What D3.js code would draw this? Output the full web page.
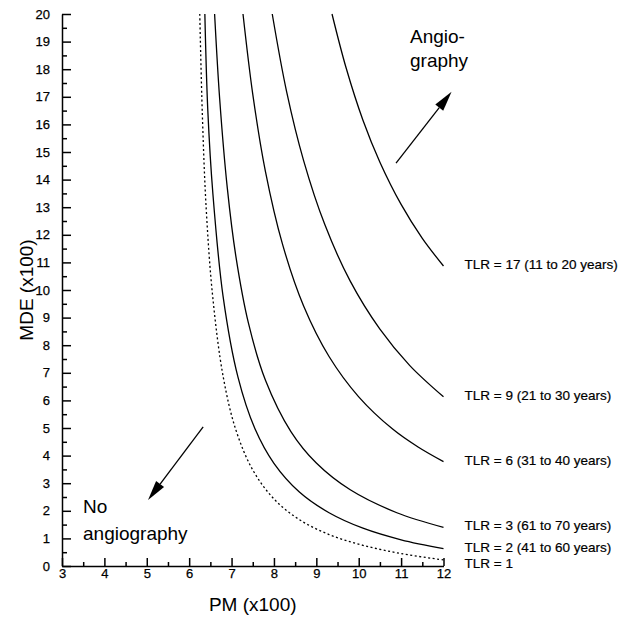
<!DOCTYPE html>
<html>
<head>
<meta charset="utf-8">
<script src="https://cdn.jsdelivr.net/npm/d3@7"></script>
<style>
  body { margin: 0; background: #fff; }
  svg { display: block; font-family: "Liberation Sans", Arial, sans-serif; }
  .axis path, .axis line { stroke: #000; stroke-width: 1.5px; }
  .axis text { font-size: 13px; fill: #000; stroke: #000; stroke-width: 0.25px; }
</style>
</head>
<body>
<div id="chart"></div>
<script>
// curve points: PM (x100) and MDE (x100)
var pmTLR1  = [6.25, 6.31, 6.40, 6.55, 6.80, 7.10, 7.50, 8.00, 8.60, 9.30, 10.10, 11.00, 12.0];
var mdeTLR1 = [20, 16.4, 13.0, 9.84, 6.88, 4.94, 3.48, 2.43, 1.68, 1.14, 0.75, 0.45, 0.22];

var pmTLR2  = [6.37, 6.44, 6.56, 6.80, 7.15, 7.55, 8.00, 8.60, 9.30, 10.10, 11.00, 12.0];
var mdeTLR2 = [20, 16.5, 13.48, 9.77, 6.85, 4.98, 3.72, 2.68, 1.93, 1.37, 0.95, 0.63];

var pmTLR3  = [6.60, 6.72, 6.90, 7.10, 7.40, 7.80, 8.40, 9.00, 9.80, 10.90, 12.0];
var mdeTLR3 = [20, 16.92, 13.69, 11.24, 8.79, 6.73, 4.87, 3.73, 2.76, 1.93, 1.40];

var pmTLR6  = [7.27, 7.50, 7.80, 8.20, 8.70, 9.30, 10.00, 10.80, 11.40, 12.0];
var mdeTLR6 = [20, 17.10, 14.29, 11.67, 9.42, 7.59, 6.13, 4.96, 4.31, 3.78];

var pmTLR9  = [7.96, 8.30, 8.70, 9.20, 9.80, 10.50, 11.20, 12.0];
var mdeTLR9 = [20, 17.18, 14.69, 12.37, 10.32, 8.58, 7.27, 6.13];

var pmTLR17  = [9.37, 9.70, 10.10, 10.50, 11.00, 11.50, 12.0];
var mdeTLR17 = [20, 18.06, 16.15, 14.63, 13.10, 11.87, 10.87];

var curveNames = ["TLR = 1", "TLR = 2 (41 to 60 years)", "TLR = 3 (61 to 70 years)",
                  "TLR = 6 (31 to 40 years)", "TLR = 9 (21 to 30 years)", "TLR = 17 (11 to 20 years)"];
var pmTicks = [3, 4, 5, 6, 7, 8, 9, 10, 11, 12];
var mdeTicks = d3.range(0, 21);

var width = 636, height = 617;

var svg = d3.select("#chart").append("svg")
    .attr("width", width)
    .attr("height", height);

svg.append("rect").attr("width", width).attr("height", height).attr("fill", "#fff");

var x = d3.scaleLinear().domain([3, 12]).range([62, 443.5]);
var y = d3.scaleLinear().domain([0, 20]).range([566, 14]);

// axes, ticks pointing inward
svg.append("g").attr("class", "axis")
    .attr("transform", "translate(" + x(3) + ",0)")
    .call(d3.axisLeft(y).tickValues(mdeTicks).tickSize(-9).tickSizeOuter(0).tickPadding(12));
svg.append("g").attr("class", "axis")
    .attr("transform", "translate(" + x(3) + ",0)")
    .call(d3.axisLeft(y).tickValues(d3.range(0.5, 20, 1)).tickSize(-5).tickSizeOuter(0).tickFormat(""))
    .select(".domain").remove();

svg.append("g").attr("class", "axis")
    .attr("transform", "translate(0," + y(0) + ")")
    .call(d3.axisBottom(x).tickValues(pmTicks).tickSize(-8).tickSizeOuter(0).tickPadding(3));
svg.append("g").attr("class", "axis")
    .attr("transform", "translate(0," + y(0) + ")")
    .call(d3.axisBottom(x).tickValues(d3.range(3.5, 12, 1)).tickSize(-4).tickSizeOuter(0).tickFormat(""))
    .select(".domain").remove();

// axis titles
svg.append("text")
    .attr("x", (x(3) + x(12)) / 2)
    .attr("y", 611)
    .attr("text-anchor", "middle")
    .attr("font-size", "19px")
    .text("PM (x100)");
svg.append("text")
    .attr("transform", "translate(33," + ((y(0) + y(20)) / 2) + ") rotate(-90)")
    .attr("text-anchor", "middle")
    .attr("font-size", "19px")
    .text("MDE (x100)");

// curves
var curves = [
    {pm: pmTLR1, mde: mdeTLR1, dotted: true},
    {pm: pmTLR2, mde: mdeTLR2},
    {pm: pmTLR3, mde: mdeTLR3},
    {pm: pmTLR6, mde: mdeTLR6},
    {pm: pmTLR9, mde: mdeTLR9},
    {pm: pmTLR17, mde: mdeTLR17}
];
curves.forEach(function (c, i) {
    c.name = curveNames[i];
    c.points = c.pm.map(function (p, j) { return [p, c.mde[j]]; });
});

var line = d3.line()
    .x(function (d) { return x(d[0]); })
    .y(function (d) { return y(d[1]); })
    .curve(d3.curveCatmullRom.alpha(0.5));

svg.selectAll(".curve")
    .data(curves)
    .enter()
    .append("path")
    .attr("class", "curve")
    .attr("d", function (d) { return line(d.points); })
    .attr("fill", "none")
    .attr("stroke", "#000")
    .attr("stroke-width", 1.3)
    .attr("stroke-dasharray", function (d) { return d.dotted ? "2,2.5" : null; });

svg.selectAll(".tlr")
    .data(curves)
    .enter()
    .append("text")
    .attr("class", "tlr")
    .attr("x", x(12) + 21)
    .attr("y", function (d) {
        var last = d.points[d.points.length - 1];
        return y(last[1]) + (d.dotted ? 8 : 3);
    })
    .attr("font-size", "13.5px")
    .attr("stroke", "#000")
    .attr("stroke-width", 0.2)
    .text(function (d) { return d.name; });

// annotations
function arrow(x1, y1, x2, y2) {
    var px1 = x(x1), py1 = y(y1), px2 = x(x2), py2 = y(y2);
    var ang = Math.atan2(py2 - py1, px2 - px1);
    var len = 20, hw = 5;
    var bx = px2 - len * Math.cos(ang), by = py2 - len * Math.sin(ang);
    svg.append("line")
        .attr("x1", px1).attr("y1", py1).attr("x2", bx).attr("y2", by)
        .attr("stroke", "#000").attr("stroke-width", 1.3);
    svg.append("path")
        .attr("d", "M" + px2 + "," + py2 +
            "L" + (bx + hw * Math.sin(ang)) + "," + (by - hw * Math.cos(ang)) +
            "L" + (bx - hw * Math.sin(ang)) + "," + (by + hw * Math.cos(ang)) + "Z")
        .attr("fill", "#000");
}
arrow(6.33, 5.04, 5.03, 2.39);
arrow(10.88, 14.6, 12.19, 17.18);

var note = svg.append("g").attr("font-size", "19px");
note.append("text").attr("x", 83).attr("y", 513).text("No");
note.append("text").attr("x", 83).attr("y", 540).text("angiography");
note.append("text").attr("x", 410).attr("y", 43).text("Angio-");
note.append("text").attr("x", 410).attr("y", 67).text("graphy");
</script>
</body>
</html>
